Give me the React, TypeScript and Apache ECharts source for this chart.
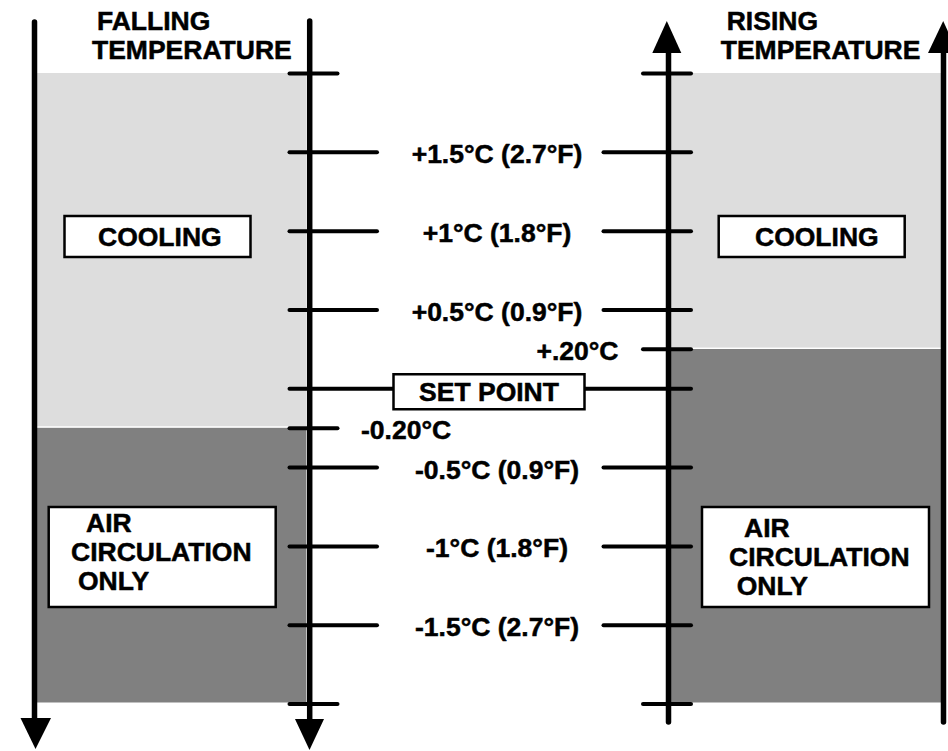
import React, { useEffect, useRef } from "react";
import * as echarts from "echarts";

// ---- data ----
const scaleMax = 2;
const scaleMin = -2;
const labeledTicks = [1.5, 1, 0.5, -0.5, -1, -1.5];
const tickLabels = [
  "+1.5°C (2.7°F)",
  "+1°C (1.8°F)",
  "+0.5°C (0.9°F)",
  "-0.5°C (0.9°F)",
  "-1°C (1.8°F)",
  "-1.5°C (2.7°F)",
];
const setPointValue = 0;
const setPointLabel = "SET POINT";
const fallingSwitch = -0.25;
const fallingSwitchLabel = "-0.20°C";
const risingSwitch = 0.25;
const risingSwitchLabel = "+.20°C";
const panelTitles = [["FALLING", "TEMPERATURE"], ["RISING", "TEMPERATURE"]];
const coolingName = ["COOLING"];
const airName = ["AIR", "CIRCULATION", "ONLY"];
// zone bounds [top, bottom] per panel
const fallingZones = [[scaleMax, fallingSwitch], [fallingSwitch, scaleMin]];
const risingZones = [[scaleMax, risingSwitch], [risingSwitch, scaleMin]];

// ---- layout / style ----
const W = 948;
const H = 751;
const LIGHT = "#dddddd";
const DARK = "#808080";
const FONT_FAMILY = '"Liberation Sans", Arial, Helvetica, sans-serif';
const FONT_SIZE = 26.5;
const baseText = (text: string, align: string) => ({
  text,
  fill: "#000",
  stroke: "#000",
  lineWidth: 0.5,
  fontSize: FONT_SIZE,
  fontWeight: "bold",
  fontFamily: FONT_FAMILY,
  textAlign: align,
  textVerticalAlign: "middle",
});
const textEl = (text: string, x: number, y: number, align = "left") => ({
  type: "text",
  x,
  y,
  z: 12,
  style: baseText(text, align),
});

export default function App() {
  const ref = useRef<HTMLDivElement>(null);
  useEffect(() => {
    const chart = echarts.init(ref.current!, null, { renderer: "svg" });

    // zones: [x0, x1, top, bottom, colorIndex]
    const zoneData: number[][] = [];
    fallingZones.forEach((z, i) => zoneData.push([36, 307, z[0], z[1], i]));
    risingZones.forEach((z, i) => zoneData.push([670, 942, z[0], z[1], i]));

    // tick segments: [x0, x1, value]
    const segs: number[][] = [];
    [scaleMax, scaleMin].forEach((v) => {
      segs.push([289.5, 337.5, v]);
      segs.push([643, 691, v]);
    });
    labeledTicks.forEach((v) => {
      segs.push([289.5, 377, v]);
      segs.push([603.5, 691, v]);
    });
    segs.push([289.5, 691, setPointValue]);
    segs.push([289.5, 337.5, fallingSwitch]);
    segs.push([643, 691, risingSwitch]);

    // labels
    const labelItems: { x: number; v: number; text: string; align: string }[] = [];
    labeledTicks.forEach((v, i) =>
      labelItems.push({ x: 497, v, text: tickLabels[i], align: "center" })
    );
    labelItems.push({ x: 361, v: fallingSwitch, text: fallingSwitchLabel, align: "left" });
    labelItems.push({ x: 618.5, v: risingSwitch, text: risingSwitchLabel, align: "right" });

    const graphics: any[] = [];
    const axisLine = (x: number, y1: number, y2: number) => ({
      type: "line",
      z: 10,
      shape: { x1: x, y1, x2: x, y2 },
      style: { stroke: "#000", lineWidth: 5.5, lineCap: "round" },
    });
    const arrow = (pts: number[][]) => ({
      type: "polygon",
      z: 10,
      shape: { points: pts },
      style: { fill: "#000" },
    });
    graphics.push(axisLine(34.5, 22, 725));
    graphics.push(arrow([[20.5, 718], [51, 718], [35.5, 749]]));
    graphics.push(axisLine(309.7, 21, 725));
    graphics.push(arrow([[295, 719], [324, 719], [309.5, 750]]));
    graphics.push(axisLine(668.5, 48, 722));
    graphics.push(arrow([[652.3, 53], [681.3, 53], [666.8, 21]]));
    graphics.push(axisLine(943.5, 48, 722));
    graphics.push(arrow([[928, 53], [958, 53], [943.2, 21]]));

    // titles
    graphics.push(textEl(panelTitles[0][0], 97, 21));
    graphics.push(textEl(panelTitles[0][1], 92, 50));
    graphics.push(textEl(panelTitles[1][0], 726.7, 21));
    graphics.push(textEl(panelTitles[1][1], 720.7, 50));

    const box = (x: number, y: number, w: number, h: number) => ({
      type: "rect",
      z: 11,
      shape: { x, y, width: w, height: h },
      style: { fill: "#fff", stroke: "#000", lineWidth: 2.5 },
    });
    // cooling boxes
    graphics.push(box(64.5, 216, 186, 41));
    graphics.push(textEl(coolingName[0], 98, 237));
    graphics.push(box(718.7, 216, 186, 41));
    graphics.push(textEl(coolingName[0], 755, 237));
    // air circulation boxes
    graphics.push(box(48.7, 507, 227, 100));
    graphics.push(textEl(airName[0], 86, 523.3));
    graphics.push(textEl(airName[1], 71, 552.2));
    graphics.push(textEl(airName[2], 78, 580.5));
    graphics.push(box(702, 507, 227, 100));
    graphics.push(textEl(airName[0], 744, 528));
    graphics.push(textEl(airName[1], 729, 557));
    graphics.push(textEl(airName[2], 736.7, 585.8));

    const option: any = {
      animation: false,
      backgroundColor: "#fff",
      grid: { left: 0, right: 0, top: 72.5, bottom: 48, containLabel: false },
      xAxis: { type: "value", min: 0, max: W, show: false },
      yAxis: { type: "value", min: scaleMin, max: scaleMax, show: false },
      graphic: graphics,
      series: [
        {
          type: "custom",
          name: "zones",
          coordinateSystem: "cartesian2d",
          clip: false,
          z: 1,
          silent: true,
          encode: { x: [0, 1], y: [2, 3] },
          data: zoneData,
          renderItem: (params: any, api: any) => {
            const p0 = api.coord([api.value(0), api.value(2)]);
            const p1 = api.coord([api.value(1), api.value(3)]);
            return {
              type: "rect",
              shape: { x: p0[0], y: p0[1], width: p1[0] - p0[0], height: p1[1] - p0[1] },
              style: {
                fill: api.value(4) === 0 ? LIGHT : DARK,
                stroke: "#fff",
                lineWidth: 1.2,
              },
            };
          },
        },
        {
          type: "custom",
          name: "ticks",
          coordinateSystem: "cartesian2d",
          clip: false,
          z: 2,
          silent: true,
          encode: { x: [0, 1], y: 2 },
          data: segs,
          renderItem: (params: any, api: any) => {
            const p0 = api.coord([api.value(0), api.value(2)]);
            const p1 = api.coord([api.value(1), api.value(2)]);
            return {
              type: "line",
              shape: { x1: p0[0], y1: p0[1] + 1, x2: p1[0], y2: p1[1] + 1 },
              style: { stroke: "#000", lineWidth: 4, lineCap: "round" },
            };
          },
        },
        {
          type: "custom",
          name: "labels",
          coordinateSystem: "cartesian2d",
          clip: false,
          z: 3,
          silent: true,
          encode: { x: 0, y: 1 },
          data: labelItems.map((l) => [l.x, l.v]),
          renderItem: (params: any, api: any) => {
            const item = labelItems[params.dataIndex];
            const p = api.coord([api.value(0), api.value(1)]);
            return {
              type: "text",
              x: p[0],
              y: p[1] + 3,
              style: baseText(item.text, item.align),
            };
          },
        },
        {
          type: "custom",
          name: "setpoint",
          coordinateSystem: "cartesian2d",
          clip: false,
          z: 4,
          silent: true,
          encode: { x: 0, y: 1 },
          data: [[489, setPointValue]],
          renderItem: (params: any, api: any) => {
            const p = api.coord([api.value(0), api.value(1)]);
            return {
              type: "group",
              children: [
                {
                  type: "rect",
                  shape: { x: 393.5, y: p[1] - 13.5, width: 191, height: 35 },
                  style: { fill: "#fff", stroke: "#000", lineWidth: 2.5 },
                },
                {
                  type: "text",
                  x: p[0],
                  y: p[1] + 4.5,
                  style: baseText(setPointLabel, "center"),
                },
              ],
            };
          },
        },
      ],
    };
    chart.setOption(option);
    return () => chart.dispose();
  }, []);
  return (
    <div
      ref={ref}
      style={{ position: "fixed", left: 0, top: 0, width: W, height: H, background: "#fff" }}
    />
  );
}
